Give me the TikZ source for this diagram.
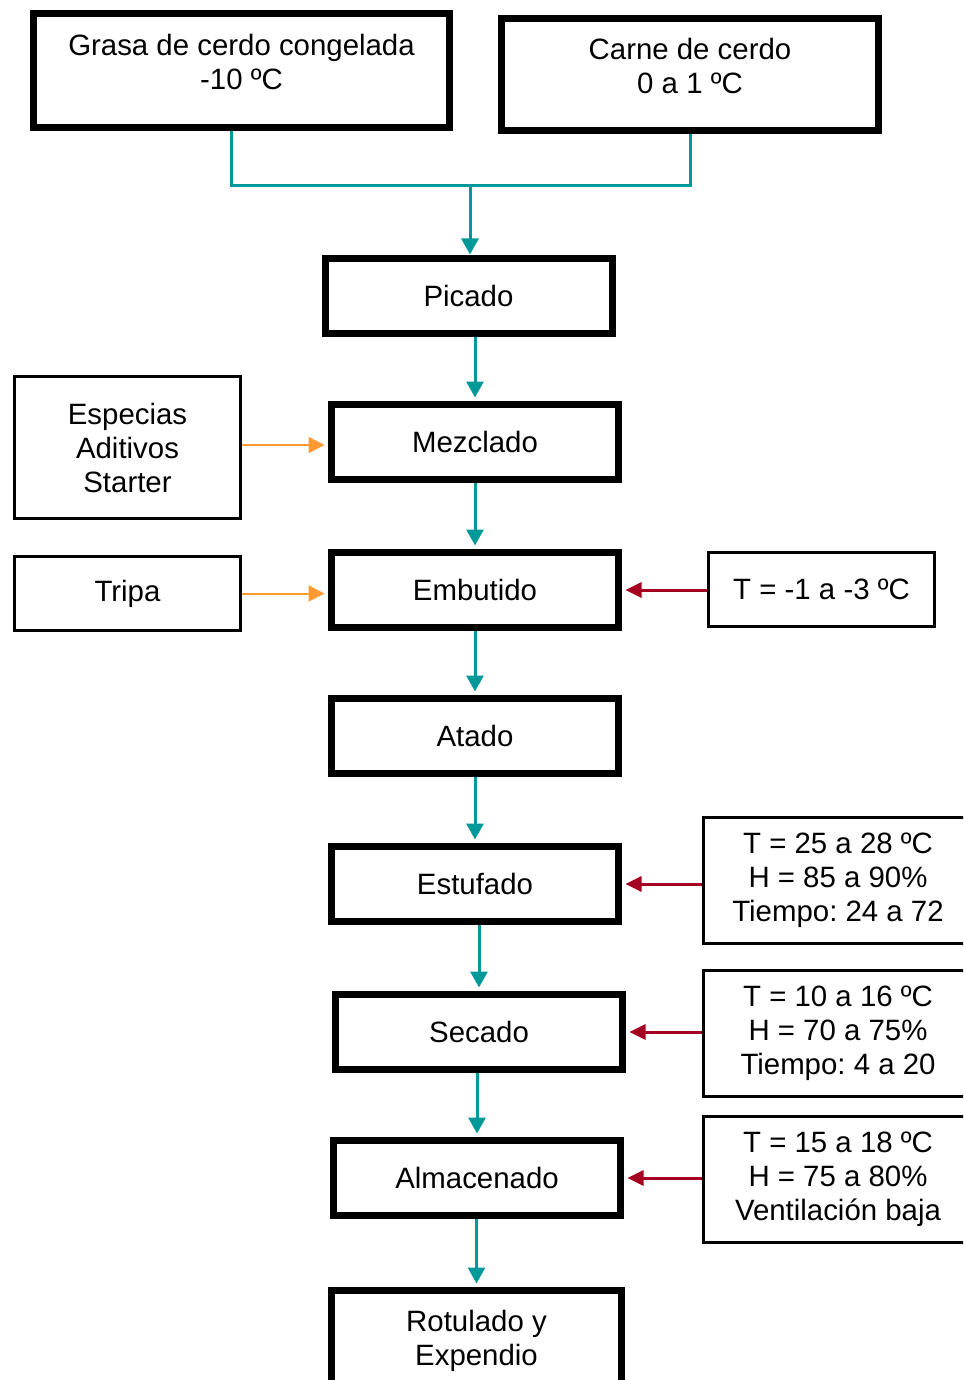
\documentclass[tikz,border=0pt]{standalone}
\usepackage{fontspec}
\setmainfont{Liberation Sans}
\usetikzlibrary{arrows.meta}
\definecolor{flowteal}{RGB}{0,153,153}
\definecolor{inorange}{RGB}{255,153,51}
\definecolor{condred}{RGB}{165,0,33}
\frenchspacing
\begin{document}
\begin{tikzpicture}
[x=0.5pt,y=-0.5pt,
  every node/.style={font=\fontsize{14.7pt}{17pt}\selectfont,align=center,inner sep=0pt},
  stepdecorate/.style={draw,line width=3.5pt,minimum width=143.5pt,minimum height=37.5pt},
  sidedecorate/.style={draw,line width=1.5pt,minimum width=113pt,minimum height=37pt},
  conddecorate/.style={draw,line width=1.5pt,minimum width=134.5pt,minimum height=63pt},
  tealline/.style={draw=flowteal,line width=1.5pt},
  tealarrow/.style={tealline,-{Triangle[length=8pt,width=8.5pt]}},
  orangearrow/.style={draw=inorange,line width=1pt,-{Triangle[length=8pt,width=8pt]}},
  redarrow/.style={draw=condred,line width=1.5pt,-{Triangle[length=8pt,width=7.5pt]}}]
\useasboundingbox (0,0) rectangle (963,1380);
\clip (0,0) rectangle (963,1380);
%% raw materials
\node (grasa) at (241.5,70.5) [stepdecorate,minimum width=208pt,minimum height=57pt] {};
\node (grasatext) at ([yshift=4.5pt]grasa.center) {Grasa de cerdo congelada\\-10 ºC};
\node (carne) at (690,74.5) [stepdecorate,minimum width=188.5pt,minimum height=56pt] {};
\node (carnetext) at ([yshift=4.5pt]carne.center) {Carne de cerdo\\0 a 1 ºC};
%% process steps
\foreach \nodename/\x/\y/\txt in {picado/468.5/295.5/Picado, mezclado/475/442/Mezclado,
  embutido/475/590/Embutido, atado/475/736/Atado, estufado/475/884/Estufado,
  secado/479/1032/Secado, almacenado/477/1178/Almacenado} {
  \node (\nodename) at (\x,\y) [stepdecorate] {\txt};
}
\node (rotulado) at (476.5,1341) [stepdecorate,minimum width=145pt,minimum height=50.5pt]
  {Rotulado y\\Expendio};
%% inputs
\node (especias) at (127.5,447.5) [sidedecorate,minimum height=71pt] {Especias\\Aditivos\\Starter};
\node (tripa) at (127.5,593.5) [sidedecorate] {Tripa};
%% conditions
\node (condemb) at (821.5,589.5) [sidedecorate] {T = -1 a -3 ºC};
\node (condest) at (838,880.5) [conddecorate] {T = 25 a 28 ºC\\H = 85 a 90\%\\Tiempo: 24 a 72};
\node (condsec) at (838,1033.5) [conddecorate] {T = 10 a 16 ºC\\H = 70 a 75\%\\Tiempo: 4 a 20};
\node (condalm) at (838,1179) [conddecorate] {T = 15 a 18 ºC\\H = 75 a 80\%\\Ventilación baja};
%% joining line
\coordinate (join) at (470,186);
\draw[tealline] ([xshift=-5.25pt]grasa.south) |- (join) -| (carne.south);
\draw[tealarrow] (join) -- (join |- picado.north);
%% flow
\foreach \startnode/\endnode in {picado/mezclado, mezclado/embutido, embutido/atado,
  atado/estufado, estufado/secado, secado/almacenado, almacenado/rotulado} {
  \draw[tealarrow,shorten >=1.75pt] (\startnode.south -| \endnode.north) -- (\endnode.north);
}
%% inputs and conditions
\draw[orangearrow,shorten >=1.75pt] ([yshift=1.25pt]especias.east) -- ([yshift=1.25pt]especias.east -| mezclado.west);
\draw[orangearrow,shorten >=1.75pt] (tripa.east) -- (tripa.east -| embutido.west);
\foreach \startnode/\endnode in {condemb/embutido, condest/estufado, condsec/secado, condalm/almacenado} {
  \draw[redarrow,shorten >=1.75pt] (\startnode.west |- \endnode.east) -- (\endnode.east);
}
\end{tikzpicture}
\end{document}
